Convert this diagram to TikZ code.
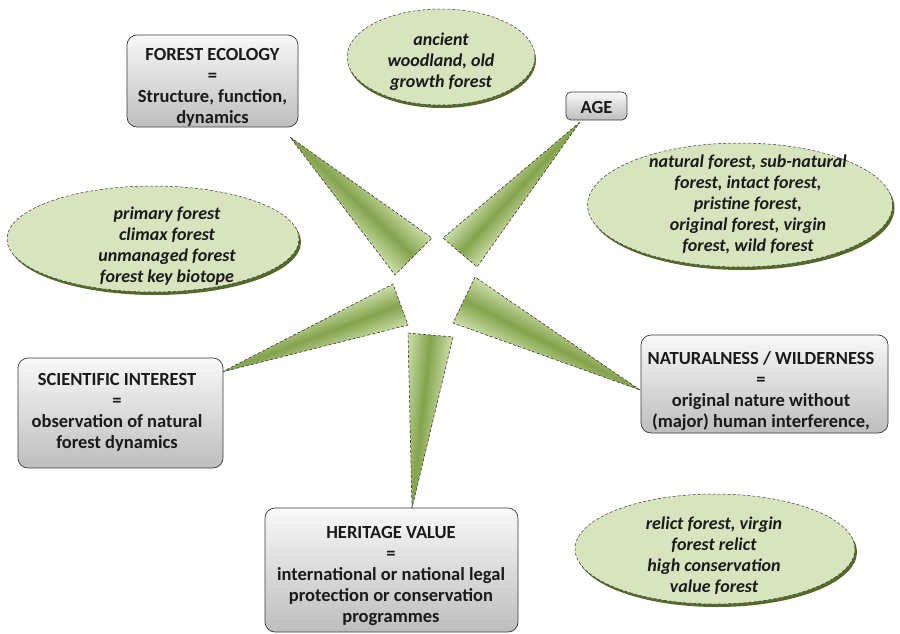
\documentclass[tikz,border=0pt]{standalone}
\usepackage{fontspec}
\setmainfont{Carlito}
\usetikzlibrary{calc,shapes.geometric}
\definecolor{gLight}{HTML}{C8DBA3}
\definecolor{gDark}{HTML}{84A34C}
\definecolor{eFill}{HTML}{D7E4BD}
\definecolor{eRim}{HTML}{55692B}
\definecolor{edgecol}{HTML}{3A3A3A}
\definecolor{txt}{HTML}{1A1A1A}
\definecolor{bTop}{HTML}{F8F8F8}
\definecolor{bBot}{HTML}{BEBEBE}
\pgfdeclareverticalshading{leafshade}{100bp}{color(0bp)=(gLight); color(30bp)=(gLight); color(50bp)=(gDark); color(70bp)=(gLight); color(100bp)=(gLight)}
\tikzset{
  boxnode/.style={draw=edgecol, line width=0.7pt, rounded corners=10pt,
    top color=bTop, bottom color=bBot, inner sep=0pt},
  ellnode/.style={ellipse, draw=edgecol, line width=0.5pt, densely dashed,
    fill=eFill, inner sep=0pt},
  ellrim/.style={ellipse, fill=eRim, inner sep=0pt},
  btext/.style={font=\fontsize{18.5}{21}\selectfont\bfseries, text=txt,
    align=center, inner sep=0pt},
  etext/.style={font=\fontsize{18}{21}\selectfont\bfseries\itshape, text=txt,
    align=center, inner sep=0pt},
  wedgeline/.style={draw=edgecol, line width=0.6pt, densely dashed},
}
% #1 tip, #2 base1, #3 base2, #4 mid, #5 angle, #6 length, #7 half width
\newcommand{\leafwedge}[7]{%
  \begin{scope}
    \clip (#1) -- (#2) -- (#3) -- cycle;
    \begin{scope}[transform canvas={shift={(#4)}, rotate=#5}]
      \shade[shading=leafshade]
        (-12pt,-#7pt) rectangle (#6pt,#7pt);
    \end{scope}
  \end{scope}
  \draw[wedgeline] (#1) -- (#2) -- (#3) -- cycle;
}
\begin{document}
\begin{tikzpicture}[x=1pt,y=-1pt]
\useasboundingbox (0,0) rectangle (900,634);

% wedge coordinates
\coordinate (feT) at (290,137); \coordinate (feA) at (432,238); \coordinate (feB) at (395,275);
\coordinate (feM) at ($(feA)!0.5!(feB)$);
\coordinate (agT) at (580,122); \coordinate (agA) at (443,238); \coordinate (agB) at (477,267);
\coordinate (agM) at ($(agA)!0.5!(agB)$);
\coordinate (scT) at (222,372); \coordinate (scA) at (393,284); \coordinate (scB) at (408,325);
\coordinate (scM) at ($(scA)!0.5!(scB)$);
\coordinate (heT) at (412,508); \coordinate (heA) at (408,333); \coordinate (heB) at (453,337);
\coordinate (heM) at ($(heA)!0.5!(heB)$);
\coordinate (naT) at (640,390); \coordinate (naA) at (475,277); \coordinate (naB) at (453,323);
\coordinate (naM) at ($(naA)!0.5!(naB)$);

\leafwedge{feT}{feA}{feB}{feM}{135.9}{172}{30}
\leafwedge{agT}{agA}{agB}{agM}{47.4}{178}{26}
\leafwedge{scT}{scA}{scB}{scM}{200.7}{191}{26}
\leafwedge{heT}{heA}{heB}{heM}{263.9}{174}{26}
\leafwedge{naT}{naA}{naB}{naM}{-27.1}{198}{29}

% ellipses
\node[ellrim, minimum width=188pt, minimum height=96pt] (ancR) at (442,60) {};
\node[ellnode, minimum width=188pt, minimum height=96pt] (anc) at (441,57) {};
\node[etext] (ancT) at (441,62) {ancient\\woodland, old\\growth forest};

\node[ellrim, minimum width=305pt, minimum height=124pt] (natR) at (742,208) {};
\node[ellnode, minimum width=305pt, minimum height=124pt] (natE) at (740,205) {};
\node[etext] (natET) at (748,204) {natural forest, sub-natural\\forest, intact forest,\\pristine forest,\\original forest, virgin\\forest, wild forest};

\node[ellrim, minimum width=292pt, minimum height=106pt] (priR) at (155,242) {};
\node[ellnode, minimum width=292pt, minimum height=106pt] (pri) at (153,239) {};
\node[etext] (priT) at (167,246) {primary forest\\climax forest\\unmanaged forest\\forest key biotope};

\node[ellrim, minimum width=280pt, minimum height=110pt] (relR) at (717,552) {};
\node[ellnode, minimum width=280pt, minimum height=110pt] (rel) at (715,549) {};
\node[etext] (relT) at (714,556) {relict forest, virgin\\forest relict\\high conservation\\value forest};

% boxes
\node[boxnode, minimum width=171pt, minimum height=92pt] (fe) at (212.5,81) {};
\node[btext] (feTx) at (212.5,87) {FOREST ECOLOGY\\=\\Structure, function,\\dynamics};

\node[boxnode, rounded corners=5pt, minimum width=61pt, minimum height=28pt] (age) at (596.5,106) {};
\node[btext] (ageTx) at (596.5,107) {AGE};

\node[boxnode, minimum width=205pt, minimum height=110pt] (sci) at (120.5,413) {};
\node[btext] (sciTx) at (117,412) {SCIENTIFIC INTEREST\\=\\observation of natural\\forest dynamics};

\node[boxnode, minimum width=253pt, minimum height=124pt] (her) at (391.5,570) {};
\node[btext] (herTx) at (391,576) {HERITAGE VALUE\\=\\international or national legal\\protection or conservation\\programmes};

\node[boxnode, minimum width=247pt, minimum height=98pt] (nat) at (764.5,384) {};
\node[btext] (natTx) at (761,391) {NATURALNESS / WILDERNESS\\=\\original nature without\\(major) human interference,};
\end{tikzpicture}
\end{document}
